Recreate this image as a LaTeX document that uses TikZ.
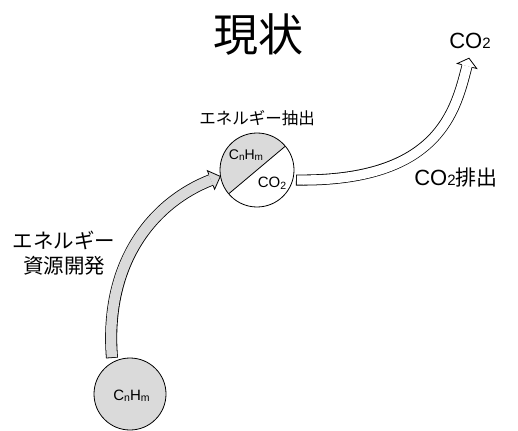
\documentclass[tikz,border=0pt]{standalone}
\usepackage{fontspec}
\setmainfont{Noto Sans CJK JP}
\newfontfamily\latin{Liberation Sans}
\definecolor{lightg}{RGB}{218,218,218}
\newcommand\smallsub[3]{\raisebox{#3}{\fontsize{#1}{#1}\selectfont #2}}
\begin{document}
\begin{tikzpicture}[x=1pt,y=-1pt,
  ring/.style={circle,draw=black,line width=0.8pt,minimum size=74pt,inner sep=0pt},
  lbl/.style={inner sep=0pt,text=black},
  arrowline/.style={line width=0.8pt,draw=black,line join=miter}]
\useasboundingbox (0,0) rectangle (518,430);

% texts
\node[lbl,font=\fontsize{45}{50}\selectfont] (title) at (258,35) {現状};
\node[lbl] (co2top) at (470,41) {\fontsize{22}{24}\selectfont\latin CO\smallsub{15}{2}{0pt}};
\node[lbl,font=\fontsize{16.5}{19}\selectfont] (extract) at (257,118) {エネルギー抽出};
\node[lbl,font=\fontsize{20.5}{25}\selectfont,align=center] (develop) at (64,253) {エネルギー\\資源開発};
\node[lbl] (emit) at (456,178) {\fontsize{22}{24}\selectfont{\latin CO\smallsub{15}{2}{0pt}}\fontsize{21}{24}\selectfont 排出};

% gray arrow (resource development)
\coordinate (gtail) at (112,358);
\coordinate (gbase) at (211,180);
\coordinate (gtip) at (220.3,176.4);
\coordinate (gw1) at (214.6,189.3);
\coordinate (gw2) at (207.4,170.7);
\coordinate (gi1) at (213.2,185.6);
\coordinate (gi2) at (208.8,174.4);
\draw[line width=12pt,black] (gtail) .. controls (104,260) and (155.2,201.6) .. (gbase);
\draw[line width=10.4pt,lightg,shorten <=0.8pt] (gtail) .. controls (104,260) and (155.2,201.6) .. (gbase);
\filldraw[arrowline,fill=lightg] (gi1) -- (gw1) -- (gtip) -- (gw2) -- (gi2);

% white arrow (CO2 emission)
\coordinate (wtail) at (296,180);
\coordinate (wbase) at (467,66);
\coordinate (wtip) at (469,58.2);
\coordinate (ww1) at (476.7,68.5);
\coordinate (ww2) at (457.3,63.5);
\coordinate (wi1) at (472.3,67.4);
\coordinate (wi2) at (461.7,64.6);
\draw[line width=11pt,black] (wtail) .. controls (440,182) and (455.75,109.65) .. (wbase);
\draw[line width=9.4pt,white,shorten <=0.8pt] (wtail) .. controls (440,182) and (455.75,109.65) .. (wbase);
\filldraw[arrowline,fill=white] (wi1) -- (ww1) -- (wtip) -- (ww2) -- (wi2);

% middle circle
\coordinate (d1) at (285.3,146.2);
\coordinate (d2) at (228.7,193.8);
\fill[lightg] (d1) arc[start angle=-40,end angle=-220,radius=37] -- cycle;
\draw[line width=0.8pt] (d1) -- (d2);
\node[ring] (mid) at (257,170) {};
\node[lbl] (midh) at (246,155) {\fontsize{14}{16}\selectfont\latin C\smallsub{10}{n}{-1pt}H\smallsub{10}{m}{-1pt}};
\node[lbl] (midc) at (272,183) {\fontsize{15}{17}\selectfont\latin CO\smallsub{10.5}{2}{-2pt}};

% source circle
\node[ring,fill=lightg,minimum size=72pt] (src) at (130,394) {};
\node[lbl] (srch) at (131.5,396) {\fontsize{15}{17}\selectfont\latin C\smallsub{10.5}{n}{-1pt}H\smallsub{10.5}{m}{-1pt}};
\end{tikzpicture}
\end{document}
